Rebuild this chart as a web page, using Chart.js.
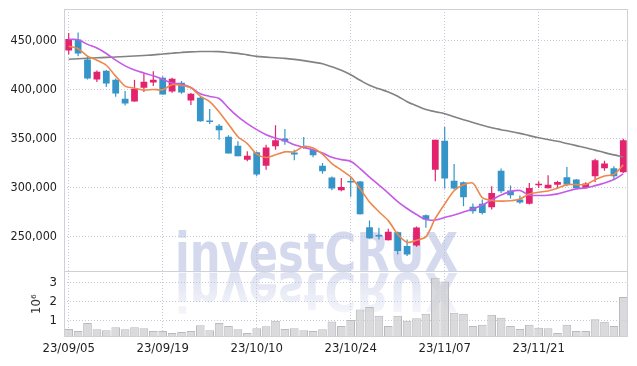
<!DOCTYPE html>
<html lang="en">
<head>
    <meta charset="UTF-8">
    <title>investCRUX chart</title>
    <style>
        body {
            margin: 0;
            background-color: #fff;
        }
        #chart-container {
            width: 637px;
            height: 366px;
        }
    </style>
    <script src="https://cdn.jsdelivr.net/npm/chart.js"></script>
</head>
<body>
    <div id="chart-container">
        <canvas id="priceChart" width="637" height="366"></canvas>
    </div>

    <script>
        var dates = [
            '23/09/05', '23/09/06', '23/09/07', '23/09/08', '23/09/11', '23/09/12', '23/09/13', '23/09/14', '23/09/15', '23/09/18',
            '23/09/19', '23/09/20', '23/09/21', '23/09/22', '23/09/25', '23/09/26', '23/09/27', '23/10/04', '23/10/05', '23/10/06',
            '23/10/10', '23/10/11', '23/10/12', '23/10/13', '23/10/16', '23/10/17', '23/10/18', '23/10/19', '23/10/20', '23/10/23',
            '23/10/24', '23/10/25', '23/10/26', '23/10/27', '23/10/30', '23/10/31', '23/11/01', '23/11/02', '23/11/03', '23/11/06',
            '23/11/07', '23/11/08', '23/11/09', '23/11/10', '23/11/13', '23/11/14', '23/11/15', '23/11/16', '23/11/17', '23/11/20',
            '23/11/21', '23/11/22', '23/11/23', '23/11/24', '23/11/27', '23/11/28', '23/11/29', '23/11/30', '23/12/01', '23/12/04'
        ];

        var openPrices = [
            440100, 451300, 431000, 410600, 419500, 410300, 391000, 388200, 402100, 407500,
            412300, 398400, 407200, 389200, 392000, 368500, 363400, 352200, 343100, 328800,
            336300, 322700, 342400, 350500, 336000, 342400, 338700, 322700, 310500, 297600,
            306400, 306400, 259900, 251700, 246700, 254800, 240600, 241300, 272100, 318600,
            348200, 307400, 305700, 280700, 283700, 280300, 317600, 297300, 288100, 283700,
            302700, 299600, 303100, 310800, 308500, 300000, 311900, 320000, 320000, 315900
        ];
        var highPrices = [
            458100, 458500, 434400, 419800, 420200, 411600, 398800, 410300, 416700, 419100,
            413900, 412300, 409000, 396800, 393000, 380500, 365200, 353600, 347500, 337300,
            337000, 344100, 363800, 360100, 339000, 352000, 339000, 325500, 311500, 310200,
            311200, 306900, 266700, 259300, 258300, 255500, 247400, 260600, 272800, 349200,
            362100, 324400, 306400, 284000, 288100, 301600, 319700, 302400, 292200, 305100,
            306800, 312900, 307400, 321400, 309000, 305700, 329600, 327800, 322000, 350200
        ];
        var lowPrices = [
            436000, 434400, 410600, 408000, 402900, 393000, 384100, 388000, 397800, 403900,
            395000, 397000, 396000, 384500, 367500, 365200, 349200, 335000, 332200, 327100,
            311900, 318600, 339000, 344100, 328100, 340000, 331200, 314300, 297600, 296600,
            290900, 272800, 248100, 247400, 246300, 232100, 230400, 240000, 259300, 306700,
            299300, 298300, 281300, 273600, 272800, 277900, 294900, 289100, 283700, 283000,
            300000, 299300, 300000, 301700, 299300, 299300, 306100, 317600, 308500, 315300
        ];
        var closePrices = [
            452000, 437100, 411600, 418400, 406500, 396300, 386200, 401100, 408300, 410300,
            395300, 411300, 397400, 396000, 368000, 367200, 358700, 335000, 332200, 332900,
            313600, 341300, 348500, 347200, 334000, 340700, 333200, 316900, 299300, 301000,
            305400, 273100, 248700, 250400, 255200, 235500, 232100, 259600, 267700, 349200,
            309500, 299300, 290400, 276200, 274500, 294900, 296600, 292500, 285100, 300000,
            303700, 303100, 306100, 303400, 300000, 304400, 328100, 324800, 311900, 348500
        ];

        // moving averages
        var ma5 = [
            444600, 441900, 434400, 430300, 425100, 414000, 403800, 401700, 399700, 400400,
            400200, 405300, 404500, 402100, 393600, 388000, 377500, 365000, 352200, 345200,
            334500, 331000, 333700, 336700, 336900, 342300, 340700, 334400, 324800, 318200,
            311200, 299100, 285500, 275700, 266600, 252600, 244400, 246600, 250000, 268800,
            283600, 297100, 303200, 304900, 290000, 287100, 286500, 286900, 288700, 293800,
            295600, 296900, 299600, 303300, 303300, 303400, 308400, 312100, 313800, 323500
        ];
        var ma20 = [
            451500, 451200, 446400, 442700, 437100, 430300, 424500, 420300, 417200, 414400,
            410800, 407100, 405700, 402500, 396000, 393300, 391200, 381500, 372600, 365500,
            359400, 354300, 350900, 348200, 344100, 341300, 339000, 335600, 331200, 328800,
            327100, 319700, 311000, 302900, 294700, 286100, 279000, 272800, 267700, 267200,
            269800, 272300, 275400, 278400, 282500, 287600, 292700, 296200, 297300, 292700,
            292200, 292500, 293900, 296500, 299000, 300000, 302300, 305100, 308500, 314300
        ];
        var ma60 = [
            431200, 431700, 432200, 432700, 433100, 433500, 434000, 434500, 435100, 435700,
            436600, 437400, 438200, 438800, 439100, 439200, 439000, 438200, 437200, 435700,
            434200, 433400, 432700, 432100, 431100, 429800, 428300, 426600, 423500, 420000,
            415400, 409800, 404700, 401100, 397900, 393500, 387900, 383800, 380000, 377700,
            375700, 372600, 369600, 366700, 363800, 361400, 359400, 357600, 355600, 353300,
            351200, 349400, 347500, 345300, 343100, 341000, 338500, 336000, 333700, 331600
        ];

        // volume in millions of shares
        var volumes = [
            0.57, 0.47, 0.88, 0.56, 0.51, 0.66, 0.56, 0.66, 0.61, 0.47,
            0.47, 0.36, 0.41, 0.47, 0.77, 0.51, 0.88, 0.73, 0.56, 0.36,
            0.61, 0.72, 1.00, 0.57, 0.61, 0.51, 0.47, 0.56, 0.96, 0.73,
            1.04, 1.59, 1.73, 1.27, 0.73, 1.27, 1.00, 1.14, 1.37, 3.27,
            3.07, 1.43, 1.37, 0.73, 0.79, 1.32, 1.16, 0.73, 0.57, 0.79,
            0.63, 0.61, 0.36, 0.79, 0.47, 0.47, 1.09, 0.95, 0.73, 2.26
        ];

        var priceTicks = [250000, 300000, 350000, 400000, 450000];
        var volumeTicks = [1, 2, 3];

        var upColor = '#e3236d';
        var downColor = '#3595c8';
        var gridColor = '#c9c9dc';
        var frameColor = '#cfd0d8';
        var tickFont = { family: '"DejaVu Sans Condensed", "DejaVu Sans", sans-serif', size: 13 };

        var candleColors = openPrices.map(function(o, i) {
            return closePrices[i] >= o ? upColor : downColor;
        });

        var watermark = {
            id: 'watermark',
            beforeDatasetsDraw: function(chart) {
                var ctx = chart.ctx;
                var text = 'investCRUX';
                ctx.save();
                ctx.font = 'bold 54px "DejaVu Sans", sans-serif';
                var sx = 283 / ctx.measureText(text).width;
                ctx.translate(175, 271);
                ctx.scale(sx, 1);
                ctx.fillStyle = 'rgba(176, 186, 222, 0.55)';
                ctx.fillText(text, 0, 0);
                // mirrored copy underneath
                ctx.scale(1, -1);
                ctx.translate(0, -2);
                var g = ctx.createLinearGradient(0, 0, 0, -42);
                g.addColorStop(0, 'rgba(176, 186, 222, 0.42)');
                g.addColorStop(1, 'rgba(176, 186, 222, 0.12)');
                ctx.fillStyle = g;
                ctx.fillText(text, 0, 0);
                ctx.restore();
            }
        };

        var frame = {
            id: 'frame',
            afterDatasetsDraw: function(chart) {
                var ctx = chart.ctx;
                var a = chart.chartArea;
                var mid = Math.round(chart.scales.y.bottom) + 0.5;
                ctx.save();
                ctx.strokeStyle = frameColor;
                ctx.lineWidth = 1;
                ctx.strokeRect(a.left + 0.5, a.top + 0.5, a.right - a.left - 1, a.bottom - a.top - 1);
                ctx.beginPath();
                ctx.moveTo(a.left, mid);
                ctx.lineTo(a.right, mid);
                ctx.stroke();
                ctx.restore();
            }
        };

        // fixed width for the left axes, and no extra padding above/below them
        function fitLeftAxis(scale) {
            scale.width = 64;
            scale.paddingTop = 0;
            scale.paddingBottom = 0;
        }

        function useTicks(values) {
            return function(scale) {
                scale.ticks = values.map(function(v) { return { value: v }; });
            };
        }

        function lineSet(data, color, tension) {
            return {
                type: 'line',
                data: data,
                yAxisID: 'y',
                borderColor: color,
                borderWidth: 1.6,
                pointRadius: 0,
                tension: tension,
                order: 0
            };
        }

        document.addEventListener('DOMContentLoaded', function() {
            var ctx = document.getElementById('priceChart').getContext('2d');
            new Chart(ctx, {
                type: 'bar',
                data: {
                    labels: dates,
                    datasets: [
                        lineSet(ma5, '#ee874b', 0.25),
                        lineSet(ma20, '#c45ae6', 0.35),
                        lineSet(ma60, '#828282', 0.4),
                        {
                            data: openPrices.map(function(o, i) { return [o, closePrices[i]]; }),
                            yAxisID: 'y',
                            backgroundColor: candleColors,
                            grouped: false,
                            maxBarThickness: 7,
                            minBarLength: 1.5,
                            order: 1
                        },
                        {
                            data: lowPrices.map(function(l, i) { return [l, highPrices[i]]; }),
                            yAxisID: 'y',
                            backgroundColor: candleColors,
                            grouped: false,
                            maxBarThickness: 1.2,
                            order: 2
                        },
                        {
                            data: volumes,
                            yAxisID: 'yVol',
                            backgroundColor: 'rgba(206, 206, 210, 0.75)',
                            borderColor: '#b9b9be',
                            borderWidth: 1,
                            grouped: false,
                            barPercentage: 1,
                            categoryPercentage: 0.92,
                            order: 3
                        }
                    ]
                },
                options: {
                    responsive: false,
                    animation: false,
                    layout: { padding: { top: 9, right: 9, left: 0, bottom: 0 } },
                    plugins: {
                        legend: { display: false },
                        tooltip: { enabled: false }
                    },
                    scales: {
                        x: {
                            offset: true,
                            grid: {
                                offset: false,
                                drawTicks: false,
                                color: function(c) { return c.index % 10 === 0 ? gridColor : 'rgba(0,0,0,0)'; }
                            },
                            border: { display: false, dash: [1, 2] },
                            ticks: {
                                autoSkip: false,
                                maxRotation: 0,
                                minRotation: 0,
                                padding: 4,
                                color: '#222',
                                font: tickFont,
                                callback: function(value, index) {
                                    return index % 10 === 0 ? dates[index] : '';
                                }
                            },
                            afterFit: function(scale) { scale.height = 29; }
                        },
                        yVol: {
                            position: 'left',
                            stack: 'panels',
                            stackWeight: 1,
                            min: 0.15,
                            max: 3.6,
                            grid: { color: gridColor, drawTicks: false },
                            border: { display: false, dash: [1, 2] },
                            ticks: { autoSkip: false, padding: 7, color: '#222', font: tickFont },
                            afterBuildTicks: useTicks(volumeTicks),
                            title: {
                                display: true,
                                text: '10⁶',
                                color: '#333',
                                font: tickFont,
                                padding: { top: 29, bottom: 0 }
                            },
                            afterFit: fitLeftAxis
                        },
                        y: {
                            position: 'left',
                            stack: 'panels',
                            stackWeight: 4,
                            min: 214800,
                            max: 482500,
                            grid: { color: gridColor, drawTicks: false },
                            border: { display: false, dash: [1, 2] },
                            ticks: {
                                autoSkip: false,
                                padding: 7,
                                color: '#222',
                                font: { family: tickFont.family, size: 12.5 },
                                callback: function(value) { return value.toLocaleString('en-US'); }
                            },
                            afterBuildTicks: useTicks(priceTicks),
                            afterFit: fitLeftAxis
                        }
                    }
                },
                plugins: [watermark, frame]
            });
        });
    </script>
</body>
</html>
